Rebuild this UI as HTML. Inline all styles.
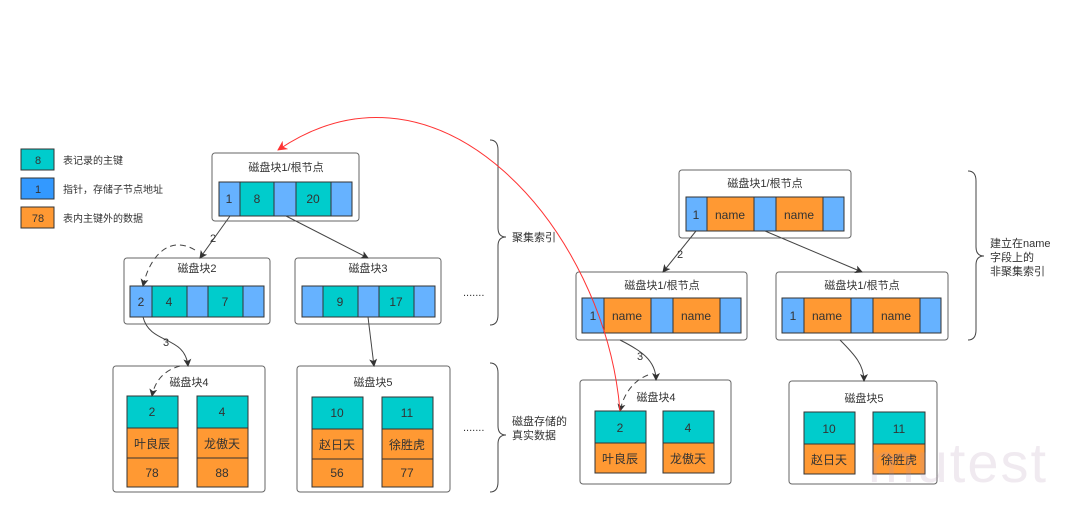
<!DOCTYPE html>
<html><head><meta charset="utf-8"><style>
html,body{margin:0;padding:0;background:#fff;}
svg text{font-family:"Liberation Sans","Noto Sans CJK SC",sans-serif;fill:#333;}
</style></head><body>
<svg width="1080" height="511" viewBox="0 0 1080 511" xmlns="http://www.w3.org/2000/svg">
<defs>
<marker id="a" markerWidth="8" markerHeight="8" refX="7" refY="4" orient="auto" markerUnits="userSpaceOnUse"><path d="M0,0 L8,4 L0,8 L2,4 z" fill="#333"/></marker>
<marker id="r" markerWidth="10" markerHeight="10" refX="9" refY="5" orient="auto" markerUnits="userSpaceOnUse"><path d="M0,0 L10,5 L0,10 L3,5 z" fill="#f33"/></marker>
</defs>
<g stroke="#333" stroke-width="1">
<rect x="21" y="149" width="33" height="21" fill="#00cccc"/>
<rect x="21" y="178" width="33" height="21" fill="#3399ff"/>
<rect x="21" y="207" width="33" height="21" fill="#ff9933"/>
<g fill="#fff" stroke="#666">
<rect x="212" y="153" width="147" height="68" rx="3"/>
<rect x="124" y="258" width="146" height="66" rx="3"/>
<rect x="295" y="258" width="146" height="66" rx="3"/>
<rect x="113" y="366" width="152" height="126" rx="3"/>
<rect x="297" y="366" width="153" height="126" rx="3"/>
<rect x="679" y="170" width="172" height="68" rx="3"/>
<rect x="576" y="272" width="171" height="68" rx="3"/>
<rect x="776" y="272" width="172" height="68" rx="3"/>
<rect x="580" y="380" width="151" height="104" rx="3"/>
<rect x="789" y="381" width="148" height="103" rx="3"/>
</g>
<rect x="219" y="182" width="21" height="34" fill="#66b2ff"/>
<rect x="240" y="182" width="34" height="34" fill="#00cccc"/>
<rect x="274" y="182" width="22" height="34" fill="#66b2ff"/>
<rect x="296" y="182" width="35" height="34" fill="#00cccc"/>
<rect x="331" y="182" width="21" height="34" fill="#66b2ff"/>
<rect x="130" y="286" width="22" height="31" fill="#66b2ff"/>
<rect x="152" y="286" width="35" height="31" fill="#00cccc"/>
<rect x="187" y="286" width="21" height="31" fill="#66b2ff"/>
<rect x="208" y="286" width="35" height="31" fill="#00cccc"/>
<rect x="243" y="286" width="21" height="31" fill="#66b2ff"/>
<rect x="302" y="286" width="21" height="31" fill="#66b2ff"/>
<rect x="323" y="286" width="35" height="31" fill="#00cccc"/>
<rect x="358" y="286" width="21" height="31" fill="#66b2ff"/>
<rect x="379" y="286" width="35" height="31" fill="#00cccc"/>
<rect x="414" y="286" width="21" height="31" fill="#66b2ff"/>
<rect x="127" y="396" width="51" height="32" fill="#00cccc"/>
<rect x="127" y="428" width="51" height="30" fill="#ff9933"/>
<rect x="127" y="458" width="51" height="29" fill="#ff9933"/>
<rect x="197" y="396" width="51" height="32" fill="#00cccc"/>
<rect x="197" y="428" width="51" height="30" fill="#ff9933"/>
<rect x="197" y="458" width="51" height="29" fill="#ff9933"/>
<rect x="312" y="397" width="51" height="32" fill="#00cccc"/>
<rect x="312" y="429" width="51" height="30" fill="#ff9933"/>
<rect x="312" y="459" width="51" height="28" fill="#ff9933"/>
<rect x="382" y="397" width="51" height="32" fill="#00cccc"/>
<rect x="382" y="429" width="51" height="30" fill="#ff9933"/>
<rect x="382" y="459" width="51" height="28" fill="#ff9933"/>
<rect x="686" y="197" width="21" height="34" fill="#66b2ff"/>
<rect x="707" y="197" width="47" height="34" fill="#ff9933"/>
<rect x="754" y="197" width="22" height="34" fill="#66b2ff"/>
<rect x="776" y="197" width="47" height="34" fill="#ff9933"/>
<rect x="823" y="197" width="21" height="34" fill="#66b2ff"/>
<rect x="582" y="298" width="22" height="35" fill="#66b2ff"/>
<rect x="604" y="298" width="47" height="35" fill="#ff9933"/>
<rect x="651" y="298" width="22" height="35" fill="#66b2ff"/>
<rect x="673" y="298" width="47" height="35" fill="#ff9933"/>
<rect x="720" y="298" width="21" height="35" fill="#66b2ff"/>
<rect x="782" y="298" width="22" height="35" fill="#66b2ff"/>
<rect x="804" y="298" width="47" height="35" fill="#ff9933"/>
<rect x="851" y="298" width="22" height="35" fill="#66b2ff"/>
<rect x="873" y="298" width="47" height="35" fill="#ff9933"/>
<rect x="920" y="298" width="21" height="35" fill="#66b2ff"/>
<rect x="595" y="411" width="51" height="32" fill="#00cccc"/>
<rect x="595" y="443" width="51" height="30" fill="#ff9933"/>
<rect x="663" y="411" width="51" height="32" fill="#00cccc"/>
<rect x="663" y="443" width="51" height="30" fill="#ff9933"/>
<rect x="804" y="412" width="51" height="32" fill="#00cccc"/>
<rect x="804" y="444" width="51" height="30" fill="#ff9933"/>
<rect x="873" y="412" width="52" height="32" fill="#00cccc"/>
<rect x="873" y="444" width="52" height="30" fill="#ff9933"/>
</g>
<g fill="none" stroke="#444" stroke-width="1">
<path d="M230,216 L200,258" marker-end="url(#a)"/>
<path d="M286,216 L368,258" marker-end="url(#a)"/>
<path d="M195,250 C170,235 150,255 143,286" stroke-dasharray="6,4" marker-end="url(#a)"/>
<path d="M143,317 C150,345 185,335 188,366" marker-end="url(#a)"/>
<path d="M180,366 C165,370 155,380 152,396" stroke-dasharray="6,4" marker-end="url(#a)"/>
<path d="M368,317 L374,366" marker-end="url(#a)"/>
<path d="M696,231 L663,272" marker-end="url(#a)"/>
<path d="M765,231 L862,272" marker-end="url(#a)"/>
<path d="M620,340 C640,350 656,360 656,380" marker-end="url(#a)"/>
<path d="M648,375 C635,380 624,392 620,411" stroke-dasharray="6,4" marker-end="url(#a)"/>
<path d="M840,340 C855,355 864,365 864,381" marker-end="url(#a)"/>
<path d="M490,140 Q498,140 498,150 L498,228 Q498,237 506,237 Q498,237 498,246 L498,315 Q498,325 490,325"/>
<path d="M490,363 Q498,363 498,373 L498,426 Q498,435 506,435 Q498,435 498,444 L498,482 Q498,492 490,492"/>
<path d="M968,171 Q976,171 976,181 L976,247 Q976,256 984,256 Q976,256 976,265 L976,330 Q976,340 968,340"/>
</g>
<path d="M620,411 C605,230 440,40 278,150" fill="none" stroke="#f33" stroke-width="1" marker-end="url(#r)"/>
<g font-size="11" text-anchor="middle">
<text x="38" y="164">8</text><text x="38" y="193">1</text><text x="38" y="222">78</text>
<text x="286" y="171">磁盘块1/根节点</text>
<text x="229" y="203" font-size="12">1</text><text x="257" y="203" font-size="12">8</text><text x="313" y="203" font-size="12">20</text>
<text x="197" y="272">磁盘块2</text><text x="368" y="272">磁盘块3</text>
<text x="141" y="306" font-size="12">2</text><text x="169" y="306" font-size="12">4</text><text x="225" y="306" font-size="12">7</text>
<text x="340" y="306" font-size="12">9</text><text x="396" y="306" font-size="12">17</text>
<text x="189" y="386">磁盘块4</text><text x="373" y="386">磁盘块5</text>
<text x="152" y="416" font-size="12">2</text><text x="222" y="416" font-size="12">4</text>
<text x="152" y="448" font-size="12">叶良辰</text><text x="222" y="448" font-size="12">龙傲天</text>
<text x="152" y="477" font-size="12">78</text><text x="222" y="477" font-size="12">88</text>
<text x="337" y="417" font-size="12">10</text><text x="407" y="417" font-size="12">11</text>
<text x="337" y="449" font-size="12">赵日天</text><text x="407" y="449" font-size="12">徐胜虎</text>
<text x="337" y="477" font-size="12">56</text><text x="407" y="477" font-size="12">77</text>
<text x="213" y="242">2</text><text x="166" y="346">3</text>
<text x="765" y="187">磁盘块1/根节点</text>
<text x="696" y="219" font-size="12">1</text><text x="730" y="219" font-size="12">name</text><text x="799" y="219" font-size="12">name</text>
<text x="662" y="289">磁盘块1/根节点</text><text x="862" y="289">磁盘块1/根节点</text>
<text x="593" y="320" font-size="12">1</text><text x="627" y="320" font-size="12">name</text><text x="696" y="320" font-size="12">name</text>
<text x="793" y="320" font-size="12">1</text><text x="827" y="320" font-size="12">name</text><text x="896" y="320" font-size="12">name</text>
<text x="680" y="258">2</text><text x="640" y="360">3</text>
<text x="656" y="401">磁盘块4</text><text x="864" y="402">磁盘块5</text>
<text x="620" y="432" font-size="12">2</text><text x="688" y="432" font-size="12">4</text>
<text x="620" y="463" font-size="12">叶良辰</text><text x="688" y="463" font-size="12">龙傲天</text>
<text x="829" y="433" font-size="12">10</text><text x="899" y="433" font-size="12">11</text>
<text x="829" y="464" font-size="12">赵日天</text><text x="899" y="464" font-size="12">徐胜虎</text>
</g>
<g font-size="10">
<text x="63" y="164">表记录的主键</text>
<text x="63" y="193">指针，存储子节点地址</text>
<text x="63" y="222">表内主键外的数据</text>
</g>
<g font-size="11">
<text x="463" y="296">.......</text><text x="463" y="431">.......</text>
<text x="512" y="241">聚集索引</text>
<text x="512" y="425">磁盘存储的</text><text x="512" y="439">真实数据</text>
<text x="990" y="247">建立在name</text><text x="990" y="261">字段上的</text><text x="990" y="275">非聚集索引</text>
</g>
<text x="868" y="482" font-size="56" letter-spacing="2" style="fill:#b090b0;opacity:0.18">mutest</text>
</svg>
</body></html>
